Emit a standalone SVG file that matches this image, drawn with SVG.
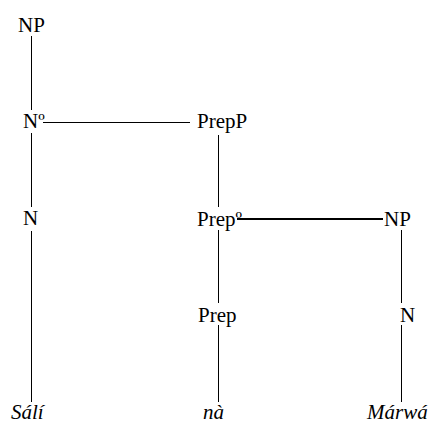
<svg xmlns="http://www.w3.org/2000/svg" width="432" height="423" viewBox="0 0 432 423">
<style>
text{font-family:"Liberation Serif","Times New Roman",serif;font-size:21px;fill:#000}
.it{font-style:italic}
line{stroke:#000;stroke-width:1}
.thick{stroke-width:2}
</style>
<rect width="432" height="423" fill="#fff"/>
<g id="connectors">
<line x1="31.5" y1="36" x2="31.5" y2="110"/>
<line x1="31.5" y1="133" x2="31.5" y2="207"/>
<line x1="31.5" y1="231" x2="31.5" y2="402"/>
<line x1="43" y1="122.5" x2="190" y2="122.5"/>
<line x1="218.5" y1="135" x2="218.5" y2="207"/>
<line x1="218.5" y1="230" x2="218.5" y2="303"/>
<line x1="218.5" y1="325" x2="218.5" y2="402"/>
<line class="thick" x1="237" y1="219" x2="383" y2="219"/>
<line x1="401.5" y1="230" x2="401.5" y2="303"/>
<line x1="401.5" y1="325" x2="401.5" y2="402"/>
</g>
<g id="np-top"><text x="18" y="32">NP</text></g>
<g id="n-bar"><text x="23" y="128">Nº</text></g>
<g id="n-left"><text x="23" y="225">N</text></g>
<g id="sali"><text class="it" x="11" y="419">Sálí</text></g>
<g id="prepp"><text x="197" y="128">PrepP</text></g>
<g id="prep-bar"><text x="197" y="226">Prepº</text></g>
<g id="prep"><text x="198" y="322">Prep</text></g>
<g id="na"><text class="it" x="203" y="419">nà</text></g>
<g id="np-right"><text x="384" y="226">NP</text></g>
<g id="n-right"><text x="400" y="322">N</text></g>
<g id="marwa"><text class="it" x="367" y="419">Márwá</text></g>
</svg>
